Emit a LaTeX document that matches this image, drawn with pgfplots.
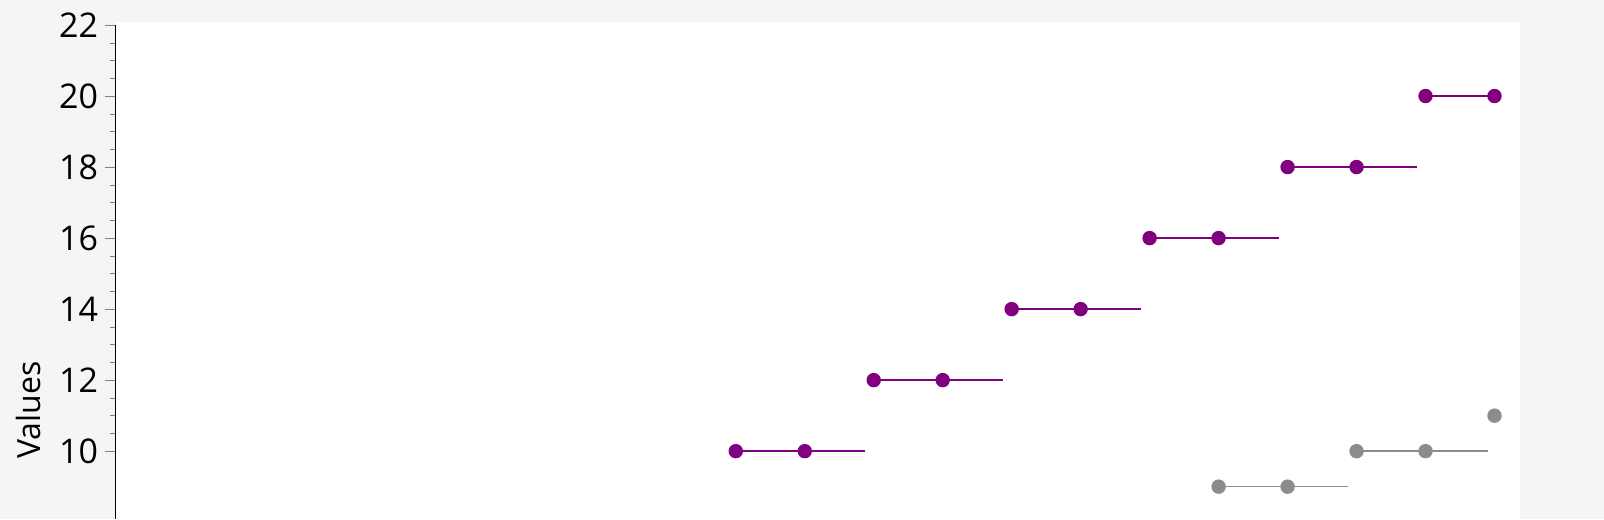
\documentclass[border=0pt]{standalone}
\usepackage{pgfplots}
\pgfplotsset{compat=1.18}
\usepackage{fontspec}
\setmainfont{Open Sans}
\definecolor{pur}{HTML}{800080}
\definecolor{gry}{HTML}{8C8C8C}
\begin{document}
\begin{tikzpicture}
\fill[white!96!black] (0,0) rectangle (802pt,259.5pt);
\path[use as bounding box] (0,0) rectangle (802pt,259.5pt);
\fill[white] (57.5pt,0) rectangle (760pt,248.5pt);
\begin{axis}[at={(57.5pt,0pt)},anchor=south west,scale only axis,
 width=702.5pt,height=247pt,xmin=0,xmax=20.37,ymin=8.09,ymax=22,
 axis y line*=left, axis x line=none, clip=false,
 ytick={10,12,...,22}, minor y tick num=3, tick align=outside,
 major tick length=5pt, minor tick length=2.5pt,
 yticklabel style={font=\fontsize{17}{19}\selectfont},
 /pgf/number format/assume math mode=true,
 every axis plot/.append style={line width=0.8pt, mark size=3.2pt}]
\foreach \a/\v in {9/10,11/12,13/14,15/16,17/18}{
 \edef\tmp{\noexpand\addplot[pur,mark=*,mark repeat=1] coordinates {(\a,\v) (\a+1,\v)};
 \noexpand\addplot[pur,no marks] coordinates {(\a+1,\v) (\a+1.88,\v)};}\tmp}
\addplot[pur,mark=*] coordinates {(19,20)(20,20)};
\addplot[gry,mark=*,draw=none,only marks] coordinates {(16,9)(17,9)(18,10)(19,10)(20,11)};
\addplot[gry,no marks] coordinates {(16,9)(17.88,9)};
\addplot[gry,no marks] coordinates {(18,10)(19.9,10)};
\end{axis}
\node[rotate=90,font=\fontsize{16}{18}\selectfont] at (14pt,54.5pt) {Values};
\end{tikzpicture}
\end{document}
